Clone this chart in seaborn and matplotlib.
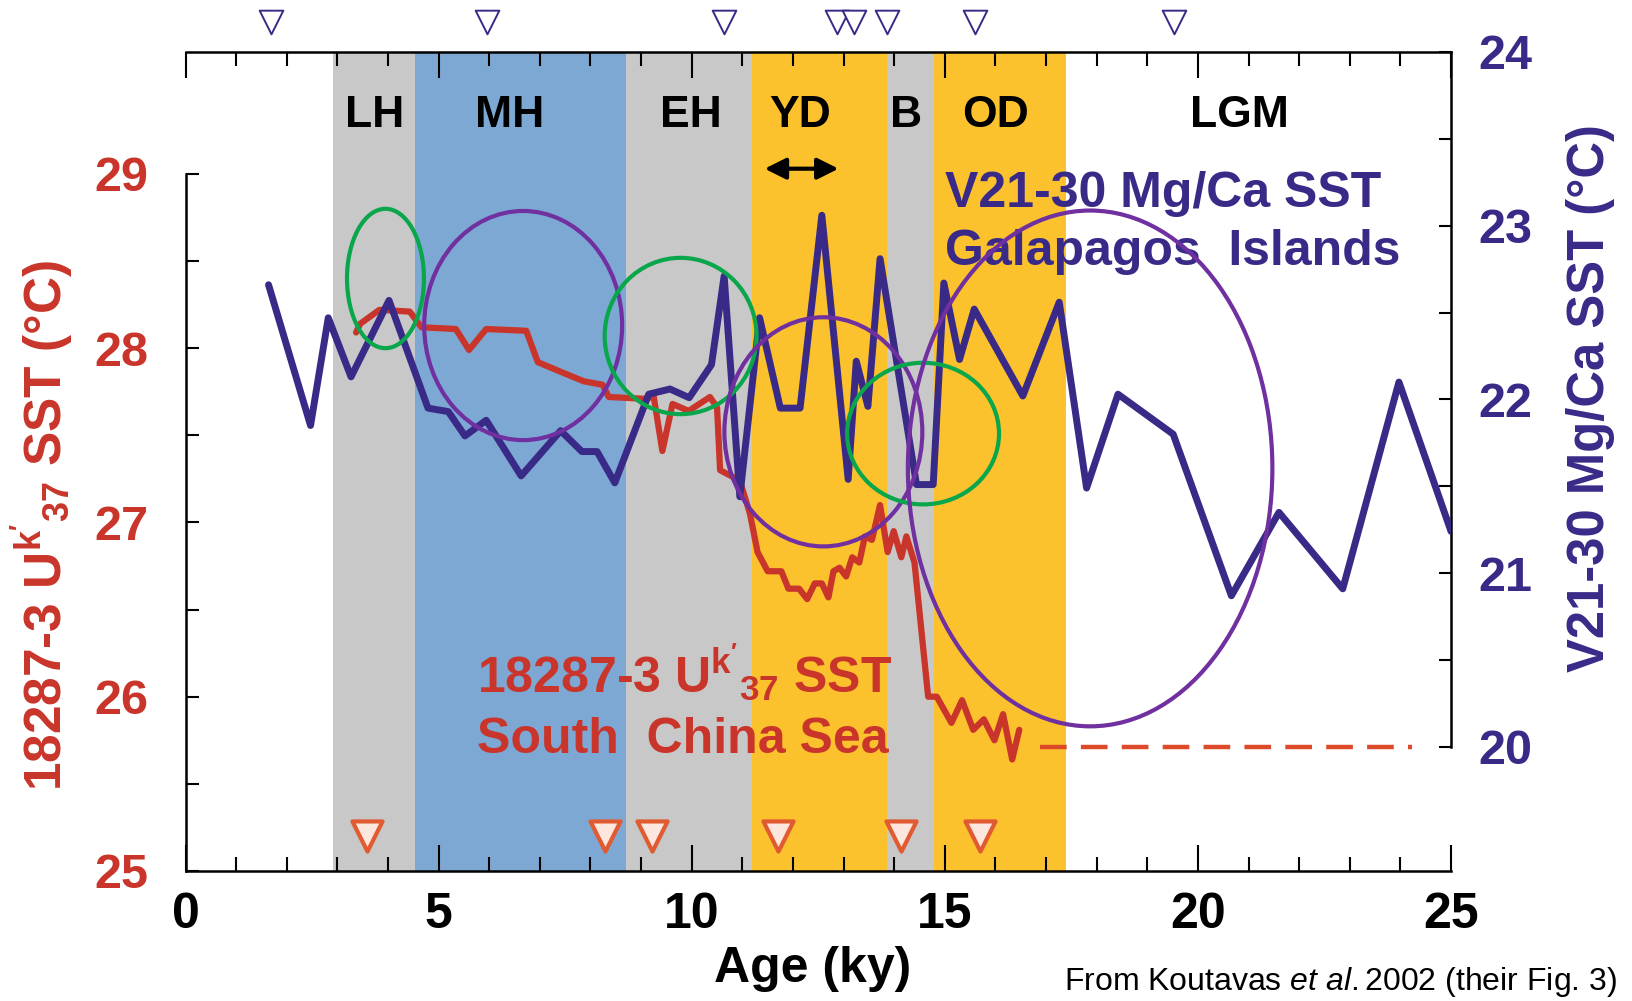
import matplotlib
matplotlib.use("Agg")
import matplotlib.pyplot as plt
import seaborn as sns
import numpy as np
from matplotlib.patches import Ellipse
from matplotlib.ticker import FixedLocator, MultipleLocator

# ---------------- data ----------------
# V21-30 Mg/Ca SST, Galapagos (right axis, deg C)
mgca_age = [1.64, 2.47, 2.82, 3.27, 4.02, 4.79, 5.19, 5.52, 5.94, 6.63, 7.41, 7.83, 8.13,
            8.48, 9.15, 9.57, 9.95, 10.39, 10.64, 10.95, 11.34, 11.75, 12.14, 12.57, 13.09,
            13.25, 13.48, 13.72, 14.44, 14.77, 14.98, 15.29, 15.58, 16.54, 17.26, 17.80,
            18.42, 19.51, 20.66, 21.60, 22.86, 23.97, 25.0]
mgca_sst = [22.66, 21.85, 22.47, 22.13, 22.57, 21.95, 21.93, 21.79, 21.88, 21.56, 21.82,
            21.70, 21.70, 21.52, 22.03, 22.06, 22.01, 22.20, 22.71, 21.44, 22.47, 21.95,
            21.95, 23.06, 21.54, 22.22, 21.96, 22.81, 21.51, 21.51, 22.67, 22.23, 22.52,
            22.02, 22.56, 21.49, 22.03, 21.80, 20.87, 21.35, 20.91, 22.10, 21.24]

# 18287-3 Uk'37 SST, South China Sea (left axis, deg C)
uk37_age = [3.37, 3.45, 3.83, 4.43, 4.66, 5.34, 5.60, 5.94, 6.73, 6.96, 7.45, 7.87, 8.24,
            8.36, 9.04, 9.25, 9.42, 9.62, 9.94, 10.36, 10.50, 10.56, 10.95, 11.15, 11.30,
            11.50, 11.77, 11.91, 12.12, 12.28, 12.43, 12.57, 12.70, 12.80, 12.92, 13.05,
            13.17, 13.31, 13.42, 13.56, 13.72, 13.87, 13.99, 14.14, 14.24, 14.40, 14.67,
            14.84, 15.13, 15.34, 15.56, 15.77, 15.98, 16.15, 16.33, 16.47]
uk37_sst = [28.09, 28.14, 28.22, 28.21, 28.12, 28.11, 27.99, 28.11, 28.10, 27.92, 27.86,
            27.81, 27.79, 27.72, 27.71, 27.72, 27.41, 27.68, 27.64, 27.72, 27.66, 27.30,
            27.24, 27.05, 26.83, 26.72, 26.72, 26.62, 26.62, 26.56, 26.65, 26.65, 26.57,
            26.72, 26.74, 26.69, 26.80, 26.77, 26.92, 26.90, 27.10, 26.83, 26.95, 26.80,
            26.92, 26.77, 26.00, 26.00, 25.85, 25.98, 25.81, 25.87, 25.75, 25.90, 25.64,
            25.81]

# LGM estimate (dashed)
lgm_age = [16.87, 24.22]
lgm_sst = [25.71, 25.71]

# radiocarbon date control points (ky)
mgca_dates = [1.69, 5.95, 10.64, 12.86, 13.21, 13.85, 15.60, 19.53]
uk37_dates = [3.59, 8.28, 9.22, 11.70, 14.14, 15.70]

# climate periods
period_names = ["LH", "MH", "EH", "YD", "B", "OD", "LGM"]
period_start = [2.92, 4.53, 8.70, 11.19, 13.85, 14.79, 17.39]
period_end = [4.53, 8.70, 11.19, 13.85, 14.79, 17.39, 25.0]
period_label_x = [3.73, 6.40, 9.98, 12.14, 14.24, 16.00, 20.81]
period_colors = ["#c8c8c8", "#7ea8d4", "#c8c8c8", "#fbc22e", "#c8c8c8", "#fbc22e", None]

x_ticks = [0, 5, 10, 15, 20, 25]
left_ticks = [25, 26, 27, 28, 29]
right_ticks = [20, 21, 22, 23, 24]

# annotation ellipses (centre age, centre left-axis value, width ky, height deg C, colour)
ellipse_specs = [
    (3.95, 28.40, 1.52, 0.80, "#0aa64c"),
    (6.67, 28.13, 3.91, 1.315, "#7030a0"),
    (9.78, 28.07, 3.00, 0.897, "#0aa64c"),
    (12.60, 27.52, 3.91, 1.315, "#7030a0"),
    (14.57, 27.51, 3.00, 0.813, "#0aa64c"),
    (17.87, 27.31, 7.20, 2.96, "#7030a0"),
]

RED = "#c9352a"
RED_DASH = "#dd4a2a"
NAVY = "#3a2a88"

# ---------------- style ----------------
sns.set_theme(style="white")
plt.rcParams["font.family"] = ["Liberation Sans", "DejaVu Sans"]
plt.rcParams["mathtext.fontset"] = "custom"
plt.rcParams["mathtext.rm"] = "Liberation Sans:weight=normal"
plt.rcParams["mathtext.bf"] = "Liberation Sans:weight=bold"
plt.rcParams["mathtext.it"] = "Liberation Sans:style=italic:weight=normal"
plt.rcParams["mathtext.default"] = "bf"

fig = plt.figure(figsize=(16.33, 10.01), dpi=100)
ax = fig.add_axes([0.1136, 0.1299, 0.775, 0.8182])
ax2 = ax.twinx()

ax.set_xlim(0, 25)
ax.set_ylim(25, 29.70)
ax2.set_ylim(19.286, 24)

# period bands
for s, e, c in zip(period_start, period_end, period_colors):
    if c is not None:
        ax.axvspan(s, e, color=c, lw=0, zorder=0)

# lines
sns.lineplot(x=uk37_age, y=uk37_sst, ax=ax, color=RED, lw=4.5, sort=False,
             estimator=None, zorder=3)
sns.lineplot(x=lgm_age, y=lgm_sst, ax=ax, color=RED_DASH, lw=3.2, sort=False,
             estimator=None, linestyle=(0, (6, 3.2)), zorder=3)
sns.lineplot(x=mgca_age, y=mgca_sst, ax=ax2, color=NAVY, lw=5, sort=False,
             estimator=None, zorder=3)

# date markers
ax2.scatter(mgca_dates, [24.17] * len(mgca_dates), marker="v", s=290,
            facecolor="white", edgecolor=NAVY, linewidth=1.4, clip_on=False, zorder=5)
ax.scatter(uk37_dates, [25.20] * len(uk37_dates), marker="v", s=470,
           facecolor="#fde6dd", edgecolor="#e05a32", linewidth=3, zorder=5)

# spines
for a in (ax, ax2):
    for sp in a.spines.values():
        sp.set_color("black")
        sp.set_linewidth(1.8)
ax.spines["right"].set_visible(False)
ax2.spines["left"].set_visible(False)
ax2.spines["top"].set_visible(False)
ax2.spines["bottom"].set_visible(False)
ax.spines["left"].set_bounds(25, 29)
ax2.spines["right"].set_bounds(20, 24)

# ticks
ax.xaxis.set_major_locator(FixedLocator(x_ticks))
ax.xaxis.set_minor_locator(MultipleLocator(1))
ax.tick_params(axis="x", which="both", direction="in", top=True, bottom=True,
               colors="black", width=1.5)
ax.tick_params(axis="x", which="major", length=19, labelsize=36, pad=15)
ax.tick_params(axis="x", which="minor", length=10)
ax.set_xticklabels([str(t) for t in x_ticks], fontweight="bold")

ax.yaxis.set_major_locator(FixedLocator(left_ticks))
ax.yaxis.set_minor_locator(FixedLocator([25.5, 26.5, 27.5, 28.5]))
ax.tick_params(axis="y", which="both", direction="in", left=True, right=False,
               length=9, width=1.5, color="black")
ax.tick_params(axis="y", which="major", labelsize=35, labelcolor=RED, pad=27)
ax.set_yticklabels([str(t) for t in left_ticks], fontweight="bold")

ax2.yaxis.set_major_locator(FixedLocator(right_ticks))
ax2.yaxis.set_minor_locator(FixedLocator([20.5, 21.5, 22.5, 23.5]))
ax2.tick_params(axis="y", which="both", direction="in", right=True, left=False,
                length=9, width=1.5, color="black")
ax2.tick_params(axis="y", which="major", labelsize=35, labelcolor=NAVY, pad=20)
ax2.set_yticklabels([str(t) for t in right_ticks], fontweight="bold")

ax.set_xlabel("")
ax.set_ylabel("")
ax2.set_ylabel("")
ax.grid(False)
ax2.grid(False)

# period labels
xt = ax.get_xaxis_transform()
for name, x in zip(period_names, period_label_x):
    ax.text(x, 0.923, name, transform=xt, ha="center", va="center",
            fontsize=32, fontweight="bold", color="black", zorder=6)

# YD double arrow
ax.annotate("", xy=(12.90, 29.03), xytext=(11.44, 29.03),
            arrowprops=dict(arrowstyle="<|-|>", color="black", lw=3,
                            mutation_scale=32, shrinkA=0, shrinkB=0), zorder=6)

# in-plot series labels
ax.text(15.0, 0.811, "V21-30 Mg/Ca SST", transform=xt, color=NAVY, fontsize=36,
        fontweight="bold", va="baseline", ha="left", zorder=6)
ax.text(15.0, 0.740, "Galapagos  Islands", transform=xt, color=NAVY, fontsize=36,
        fontweight="bold", va="baseline", ha="left", zorder=6)
ax.text(5.75, 0.217, r"18287-3 U$^{k'}$$_{37}$ SST", transform=xt, color=RED,
        fontsize=36, fontweight="bold", va="baseline", ha="left", zorder=6)
ax.text(5.75, 0.1437, "South  China Sea", transform=xt, color=RED, fontsize=36,
        fontweight="bold", va="baseline", ha="left", zorder=6)

# axis titles
fig.text(0.0255, 0.4745, r"18287-3 U$^{k'}$$_{37}$ SST (°C)", rotation=90, color=RED,
         fontsize=37, fontweight="bold", ha="center", va="center")
fig.text(0.974, 0.6024, "V21-30 Mg/Ca SST (°C)", rotation=90, color=NAVY,
         fontsize=36.5, fontweight="bold", ha="center", va="center")
fig.text(0.4976, 0.032, "Age (ky)", fontsize=36, fontweight="bold", color="black",
         ha="center", va="center")

# footer
fig.text(0.9906, 0.019, r"From Koutavas $\it{et\ al.}$2002 (their Fig. 3)",
         fontsize=23, fontweight="normal", color="black", ha="right", va="center")

# annotation ellipses
for cx, cy, w, h, c in ellipse_specs:
    e = Ellipse((cx, cy), w, h, transform=ax.transData, fill=False, edgecolor=c,
                linewidth=3, zorder=10, clip_on=False)
    ax2.add_patch(e)

fig.savefig("out.png", dpi=100)
